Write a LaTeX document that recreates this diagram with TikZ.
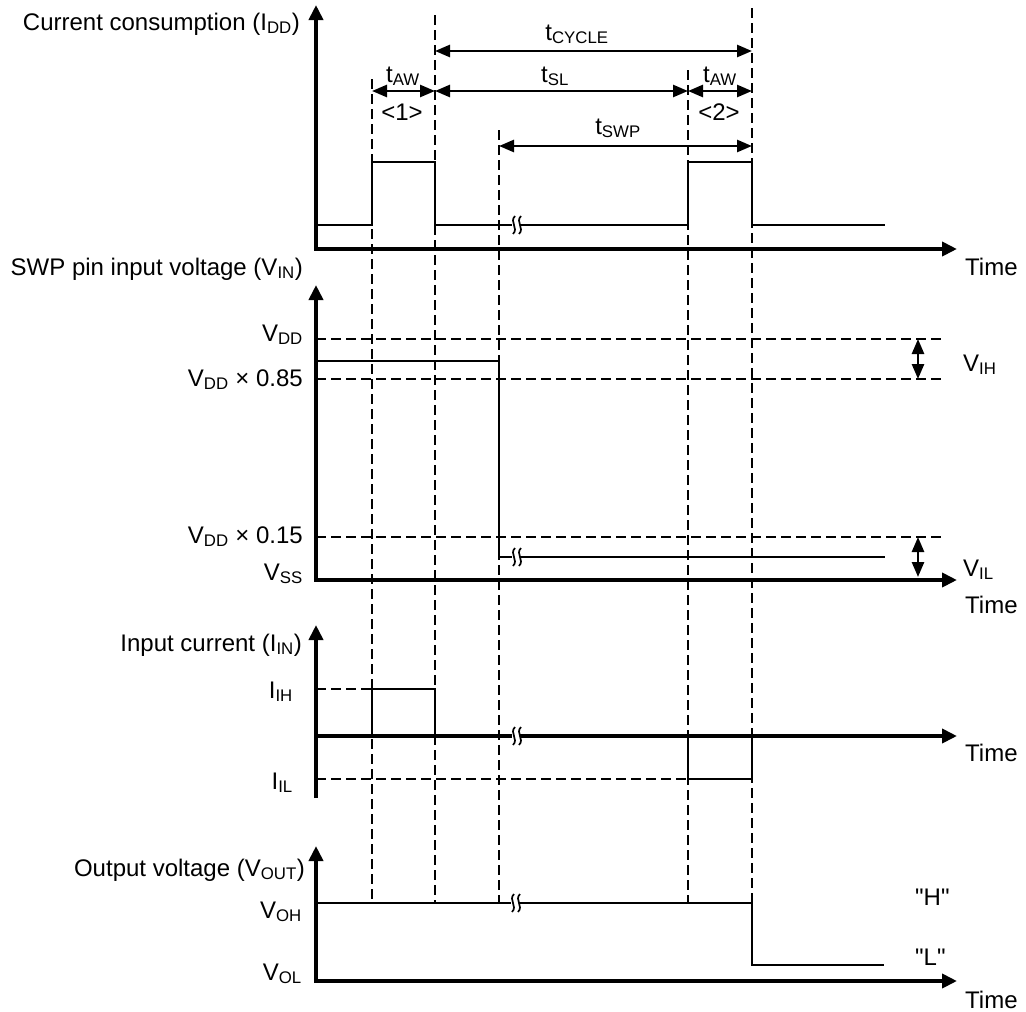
\documentclass[tikz,border=0pt]{standalone}
\usepackage{fontspec}
\setmainfont{Liberation Sans}
\newfontfamily\qfont{Liberation Sans}
\usetikzlibrary{arrows.meta}
\newcommand\brkmark[2]{%
  \fill[white] ({#1-4},{#2-3}) rectangle ({#1+4},{#2+3});
  \draw[line width=1.7pt] ({#1-1},{#2-9}) .. controls ({#1-7},{#2-3}) and ({#1+3},{#2+3}) .. ({#1-3},{#2+9});
  \draw[line width=1.7pt] ({#1+5},{#2-9}) .. controls ({#1-1},{#2-3}) and ({#1+9},{#2+3}) .. ({#1+3},{#2+9});
}
\begin{document}
\begin{tikzpicture}[x=1pt,y=-1pt,
  axis/.style={line width=3.8pt,line join=miter},
  axtip/.style={-{Triangle[length=15pt,width=14pt]}},
  axtips/.style={{Triangle[length=15pt,width=14pt]}-{Triangle[length=15pt,width=14pt]}},
  sig/.style={line width=2.6pt,line join=miter},
  dsh/.style={line width=2.6pt,dash pattern=on 10pt off 5pt},
  dim/.style={line width=2.6pt,{Triangle[length=15pt,width=12pt]}-{Triangle[length=15pt,width=12pt]}},
  lbl/.style={font=\fontsize{24}{28}\selectfont,inner sep=0pt},
]
\useasboundingbox (0,0) rectangle (1026,1012);

% ---------- dashed time markers ----------
\coordinate (m1t) at (372,79);  \coordinate (m1b) at (372,903);
\coordinate (m2t) at (435,15);  \coordinate (m2b) at (435,903);
\coordinate (m3t) at (499,130); \coordinate (m3b) at (499,903);
\coordinate (m4t) at (688,70);  \coordinate (m4b) at (688,903);
\coordinate (m5t) at (752,8);   \coordinate (m5b) at (752,903);
\foreach \i in {1,...,5} \draw[dsh] (m\i t) -- (m\i b);

% ---------- panel 1: current consumption ----------
\draw[sig] (316,225) -- (372,225) -- (372,162) -- (435,162) -- (435,225) -- (688,225)
  -- (688,162) -- (752,162) -- (752,225) -- (885,225);
\brkmark{516}{225}
\draw[axis,axtips] (316,5) -- (316,249) -- (957,249);

\coordinate (c1) at (435,51); \coordinate (c2) at (752,51);
\draw[dim] (c1) -- (c2);
\coordinate (a1) at (372,91); \coordinate (a2) at (435,91);
\coordinate (a3) at (688,91); \coordinate (a4) at (752,91);
\draw[dim] (a1) -- (a2);
\draw[dim] (a2) -- (a3);
\draw[dim] (a3) -- (a4);
\coordinate (s1) at (499,146); \coordinate (s2) at (752,146);
\draw[dim] (s1) -- (s2);

\node[lbl,anchor=base] (tcyc) at (577,40) {t\textsubscript{CYCLE}};
\node[lbl,anchor=base] (taw1) at (403,82) {t\textsubscript{AW}};
\node[lbl,anchor=base] (tsl) at (555,82) {t\textsubscript{SL}};
\node[lbl,anchor=base] (taw2) at (720,82) {t\textsubscript{AW}};
\node[lbl,anchor=base] (n1) at (402,120) {<1>};
\node[lbl,anchor=base] (n2) at (719,120) {<2>};
\node[lbl,anchor=base] (tswp) at (618,134) {t\textsubscript{SWP}};

\node[lbl,anchor=base east] (ylab1) at (300,30) {Current consumption (I\textsubscript{DD})};
\node[lbl,anchor=base west] (time1) at (965,275) {Time};

% ---------- panel 2: SWP pin input voltage ----------
\draw[dsh] (316,339) -- (942,339);
\draw[dsh] (316,379) -- (942,379);
\draw[dsh] (316,537) -- (942,537);
\draw[sig] (316,361) -- (499,361) -- (499,557) -- (885,557);
\brkmark{516}{557}
\draw[axis,axtips] (316,285) -- (316,580) -- (957,580);
\coordinate (vh1) at (918,339); \coordinate (vh2) at (918,379);
\draw[dim] (vh1) -- (vh2);
\coordinate (vl1) at (918,537); \coordinate (vl2) at (918,577);
\draw[dim] (vl1) -- (vl2);

\node[lbl,anchor=base east] (ylab2) at (303,275) {SWP pin input voltage (V\textsubscript{IN})};
\node[lbl,anchor=base east] (vdd) at (303,341) {V\textsubscript{DD}};
\node[lbl,anchor=base east] (v85) at (303,386) {V\textsubscript{DD} × 0.85};
\node[lbl,anchor=base east] (v15) at (303,543) {V\textsubscript{DD} × 0.15};
\node[lbl,anchor=base east] (vss) at (303,580) {V\textsubscript{SS}};
\node[lbl,anchor=base west] (vih) at (963,371) {V\textsubscript{IH}};
\node[lbl,anchor=base west] (vil) at (963,576) {V\textsubscript{IL}};
\node[lbl,anchor=base west] (time2) at (965,613) {Time};

% ---------- panel 3: input current ----------
\draw[dsh] (316,689) -- (372,689);
\draw[dsh] (316,779) -- (688,779);
\draw[sig] (372,736) -- (372,689) -- (435,689) -- (435,736);
\draw[sig] (688,736) -- (688,779) -- (752,779) -- (752,736);
\draw[axis,axtip] (316,798) -- (316,625);
\draw[axis,axtip] (316,736) -- (957,736);
\brkmark{516}{736}

\node[lbl,anchor=base east] (ylab3) at (302,651) {Input current (I\textsubscript{IN})};
\node[lbl,anchor=base east] (iih) at (293,698) {I\textsubscript{IH}};
\node[lbl,anchor=base east] (iil) at (293,789) {I\textsubscript{IL}};
\node[lbl,anchor=base west] (time3) at (965,761) {Time};

% ---------- panel 4: output voltage ----------
\draw[sig] (316,903) -- (752,903) -- (752,965) -- (884,965);
\brkmark{515}{903}
\draw[axis,axtips] (316,846) -- (316,981) -- (957,981);

\node[lbl,anchor=base east] (ylab4) at (305,876) {Output voltage (V\textsubscript{OUT})};
\node[lbl,anchor=base east] (voh) at (302,918) {V\textsubscript{OH}};
\node[lbl,anchor=base east] (vol) at (302,980) {V\textsubscript{OL}};
\node[lbl,anchor=base west] (hl) at (915,905) {\qfont "H"};
\node[lbl,anchor=base west] (ll) at (915,965) {\qfont "L"};
\node[lbl,anchor=base west] (time4) at (965,1008) {Time};
\end{tikzpicture}
\end{document}
